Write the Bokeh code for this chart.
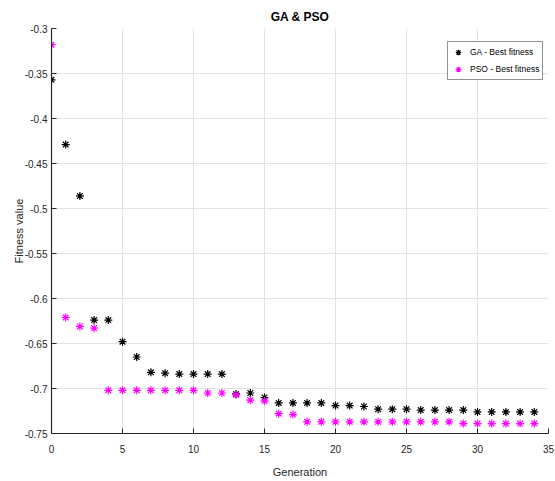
from bokeh.plotting import figure
from bokeh.models import ColumnDataSource, FixedTicker, Legend, LegendItem, Range1d
from bokeh.embed import file_html
from bokeh.resources import INLINE

# Best fitness per generation for each optimiser
generation = list(range(35))
ga_best = [-0.357, -0.429, -0.486, -0.624, -0.624, -0.648, -0.665, -0.682, -0.683, -0.684,
           -0.684, -0.684, -0.684, -0.706, -0.705, -0.710, -0.716, -0.716, -0.716, -0.716,
           -0.719, -0.719, -0.720, -0.723, -0.723, -0.723, -0.724, -0.724, -0.724, -0.724,
           -0.726, -0.726, -0.726, -0.726, -0.726]
pso_best = [-0.318, -0.621, -0.631, -0.633, -0.702, -0.702, -0.702, -0.702, -0.702, -0.702,
            -0.702, -0.705, -0.705, -0.707, -0.713, -0.714, -0.728, -0.729, -0.737, -0.737,
            -0.737, -0.737, -0.737, -0.737, -0.737, -0.737, -0.737, -0.737, -0.737, -0.739,
            -0.739, -0.739, -0.739, -0.739, -0.739]

x_ticks = [0, 5, 10, 15, 20, 25, 30, 35]
y_ticks = [-0.75, -0.7, -0.65, -0.6, -0.55, -0.5, -0.45, -0.4, -0.35, -0.3]
y_tick_labels = ["-0.75", "-0.7", "-0.65", "-0.6", "-0.55", "-0.5", "-0.45", "-0.4", "-0.35", "-0.3"]

FONT = "Liberation Sans Narrow, Liberation Sans"
INK = "#262626"

src = ColumnDataSource(dict(gen=generation, ga=ga_best, pso=pso_best))

p = figure(width=555, height=481, output_backend="svg", toolbar_location=None,
           x_range=Range1d(0, 35), y_range=Range1d(-0.75, -0.3),
           min_border_left=51, min_border_right=7, min_border_top=28, min_border_bottom=48,
           title="GA & PSO")
p.outline_line_color = None
p.background_fill_color = "white"
p.border_fill_color = "white"

p.title.align = "center"
p.title.text_font = FONT
p.title.text_font_size = "12px"
p.title.text_font_style = "bold"
p.title.text_color = "black"
p.title.standoff = 10

ga_r = p.scatter("gen", "ga", source=src, marker="asterisk", size=8,
                 line_color="black", line_width=1.2)
pso_r = p.scatter("gen", "pso", source=src, marker="asterisk", size=8,
                  line_color="#ff00ff", line_width=1.2)

p.xaxis.ticker = FixedTicker(ticks=x_ticks)
p.yaxis.ticker = FixedTicker(ticks=y_ticks)
p.yaxis.major_label_overrides = {t: s for t, s in zip(y_ticks, y_tick_labels)}

for ax in (p.xaxis, p.yaxis):
    ax.axis_line_color = INK
    ax.axis_line_width = 1.2
    ax.major_tick_line_color = INK
    ax.major_tick_in = 5
    ax.major_tick_out = 0
    ax.minor_tick_line_color = None
    ax.major_label_text_font = FONT
    ax.major_label_text_font_size = "10px"
    ax.major_label_text_color = INK
    ax.axis_label_text_font = FONT
    ax.axis_label_text_font_size = "11px"
    ax.axis_label_text_font_style = "normal"
    ax.axis_label_text_color = INK

p.xaxis.axis_label = "Generation"
p.yaxis.axis_label = "Fitness value"
p.xaxis.major_label_standoff = 11
p.xaxis.axis_label_standoff = 10
p.yaxis.major_label_standoff = 4
p.yaxis.axis_label_standoff = -3

p.grid.grid_line_color = "#e2e2e2"
p.grid.grid_line_width = 1

legend = Legend(items=[LegendItem(label="GA - Best fitness", renderers=[ga_r]),
                       LegendItem(label="PSO - Best fitness", renderers=[pso_r])],
                location=(396, 353))
legend.label_text_font = FONT
legend.label_text_font_size = "8.5px"
legend.label_text_color = "black"
legend.glyph_height = 14
legend.glyph_width = 14
legend.label_height = 14
legend.label_standoff = 5
legend.spacing = 3
legend.padding = 3
legend.margin = 0
legend.border_line_color = INK
legend.border_line_width = 1
legend.background_fill_color = "white"
legend.background_fill_alpha = 1
p.add_layout(legend)

open("out.html", "w").write(file_html(p, INLINE))
